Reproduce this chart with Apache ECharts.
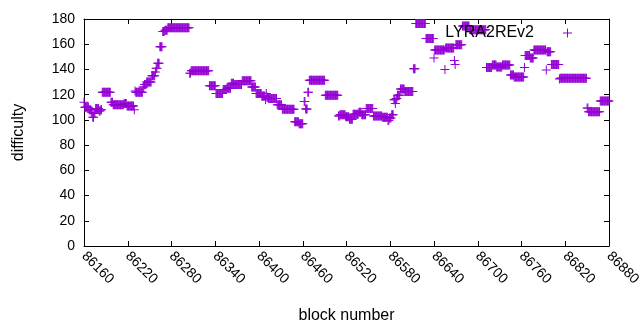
<!DOCTYPE html>
<html>
<head>
<meta charset="utf-8">
<script src="https://cdn.jsdelivr.net/npm/echarts@6/dist/echarts.min.js"></script>
<style>
html,body{margin:0;padding:0;background:#fff}
#chart{width:640px;height:330px}
</style>
</head>
<body>
<div id="chart"></div>
<script>
var seriesName = "LYRA2REv2";
var runStart = [86160,86161,86167,86170,86172,86174,86176,86181,86183,86185,86197,86200,86215,86219,86229,
  86230,86231,86241,86243,86246,86253,86258,86259,86261,86264,86268,86271,86275,86305,86307,
  86332,86341,86351,86356,86362,86366,86377,86390,86396,86404,86409,86410,86411,86413,86425,
  86432,86449,86455,86462,86464,86467,86469,86491,86509,86511,86519,86524,86529,86537,86541,
  86547,86557,86569,86577,86579,86582,86585,86587,86588,86590,86594,86600,86612,86615,86629,
  86640,86641,86655,86656,86668,86669,86670,86679,86689,86712,86720,86726,86734,86745,86750,
  86764,86765,86772,86777,86794,86795,86801,86812,86813,86850,86852,86868];
var runEnd = [86160,86166,86169,86171,86173,86175,86180,86182,86184,86196,86199,86214,86218,86228,86229,
  86230,86240,86242,86245,86252,86257,86258,86260,86263,86267,86270,86274,86304,86306,86331,
  86340,86350,86355,86361,86365,86376,86389,86395,86403,86408,86409,86410,86412,86424,86431,
  86448,86454,86460,86463,86466,86468,86490,86508,86510,86518,86523,86528,86536,86540,86546,
  86556,86568,86576,86578,86581,86584,86586,86587,86589,86593,86599,86611,86614,86628,86639,
  86640,86654,86655,86667,86668,86669,86678,86688,86711,86719,86725,86733,86744,86749,86763,
  86764,86771,86776,86793,86794,86800,86811,86812,86849,86851,86867,86880];
var runValue = [114,110,108,106,102,105,109,107,108,122,114,112,113,111,108,
  123,122,126,128,130,135,138,141,145,158,170,171,173,137,139,
  127,121,124,125,129,128,131,126,121,119,116,121,118,117,112,
  108.5,98.5,97,114.5,108.6,122,131.5,119.5,103,104,102.5,100.5,104.5,106,104,
  109,103,102,99.5,101.5,104,116,113,117,119.5,124.5,122.5,140.5,176.5,164.5,
  149,155.5,140,157,147,144,159.5,174.5,171.5,141.5,143.5,142,143.5,135.5,134,
  141.5,151,149,155.5,139.6,154,144,132.4,133,109.5,106.5,115];

var points = [];
for (var i = 0; i < runStart.length; i++) {
  for (var b = runStart[i]; b <= runEnd[i]; b++) points.push([b, runValue[i]]);
}

var PURPLE = "#9400d3";
var PLUS = "path://M0,4H9V5H0Z M4,0H5V9H4Z";
var FONT = "'Liberation Sans', Arial, sans-serif";

function frameAxis(pos, extra){
  var o = {
    type:"value", position:pos,
    axisLine:{show:true, onZero:false, lineStyle:{color:"#000", width:1}},
    axisTick:{show:true, inside:true, length:5, lineStyle:{color:"#000"}},
    axisLabel:{show:false},
    splitLine:{show:false}
  };
  for (var k in extra) o[k] = extra[k];
  return o;
}

var ch = echarts.init(document.getElementById("chart"), null, {renderer:"canvas"});
ch.setOption({
  animation:false,
  backgroundColor:"#fff",
  textStyle:{fontFamily:FONT},
  grid:{left:84, right:31, top:19, bottom:84, containLabel:false, outerBoundsMode:"none"},
  legend:{
    data:[{name:seriesName, icon:PLUS}],
    right:68, top:25, align:"right", padding:0,
    itemWidth:9, itemHeight:9,
    textStyle:{fontSize:16, color:"#000", fontFamily:FONT, padding:[0,24,0,0]}
  },
  xAxis:[
    frameAxis("bottom", {min:86160, max:86880, interval:60,
      axisLabel:{show:true, rotate:-45, color:"#000", fontSize:14, margin:8, fontFamily:FONT,
        formatter:function(v){ return String(v); }},
      name:"block number", nameLocation:"middle", nameGap:62,
      nameTextStyle:{fontSize:16, color:"#000", fontFamily:FONT}}),
    frameAxis("top", {min:86160, max:86880, interval:60})
  ],
  yAxis:[
    frameAxis("left", {min:0, max:180, interval:20,
      axisLabel:{show:true, color:"#000", fontSize:14, margin:9, fontFamily:FONT},
      name:"difficulty", nameLocation:"middle", nameGap:57, nameRotate:90,
      nameTextStyle:{fontSize:16, color:"#000", fontFamily:FONT}}),
    frameAxis("right", {min:0, max:180, interval:20})
  ],
  series:[{
    name:seriesName, type:"scatter", xAxisIndex:0, yAxisIndex:0,
    data:points, symbol:PLUS, symbolSize:9,
    itemStyle:{color:PURPLE, opacity:1},
    emphasis:{disabled:true}, large:false
  }]
});
</script>
</body>
</html>
